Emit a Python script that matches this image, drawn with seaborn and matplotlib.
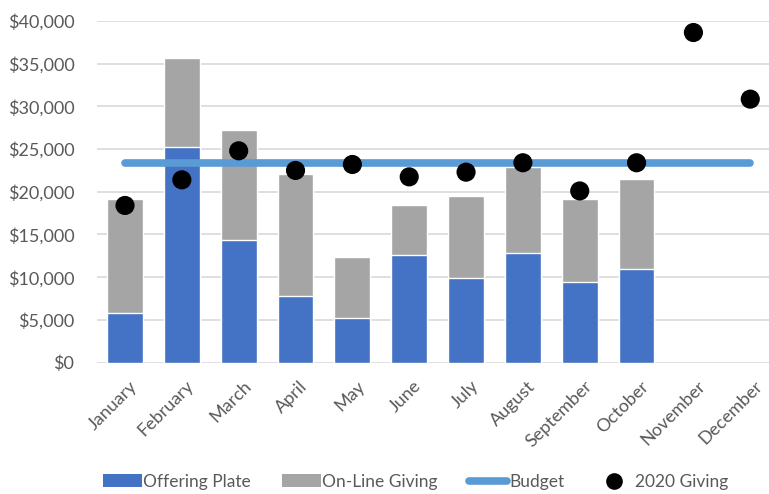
import numpy as np
import pandas as pd
import matplotlib
matplotlib.use("Agg")
import matplotlib.pyplot as plt
import seaborn as sns
from matplotlib.patches import Patch
from matplotlib.lines import Line2D
from matplotlib.ticker import FuncFormatter
import matplotlib.transforms as mtrans

months = ["January", "February", "March", "April", "May", "June", "July",
          "August", "September", "October", "November", "December"]
offering_plate = [5800, 25200, 14300, 7750, 5250, 12600, 9850, 12800, 9400, 11000, np.nan, np.nan]
online_giving = [13350, 10500, 12900, 14350, 7150, 5800, 9700, 10100, 9750, 10500, np.nan, np.nan]
budget = [23400] * 12
giving_2020 = [18400, 21400, 24800, 22500, 23200, 21750, 22300, 23400, 20100, 23400, 38650, 30850]

df = pd.DataFrame({
    "month": months,
    "plate": offering_plate,
    "online": online_giving,
    "budget": budget,
    "giving": giving_2020,
})
df["total"] = df["plate"] + df["online"]
df["pos"] = np.arange(len(months))

sns.set_theme(style="white")
plt.rcParams["font.family"] = ["Lato", "DejaVu Sans"]

BLUE = "#4472C4"
GRAY = "#A5A5A5"
LBLUE = "#5B9BD5"
TXT = "#595959"

fig = plt.figure(figsize=(7.69, 4.94), dpi=100)
ax = fig.add_axes([0.1256, 0.266, 0.887, 0.6915])

sns.barplot(data=df, x="month", y="total", order=months, color=GRAY,
            width=0.63, saturation=1, ax=ax, zorder=2)
sns.barplot(data=df, x="month", y="plate", order=months, color=BLUE,
            width=0.63, saturation=1, ax=ax, zorder=3)
ax.plot(df["pos"], df["budget"], color=LBLUE, lw=5.5, solid_capstyle="round", zorder=4)
sns.scatterplot(x=df["pos"], y=df["giving"], color="black", s=190,
                edgecolor="none", ax=ax, zorder=5)

ax.set_xlim(-0.5, 11.5)
ax.set_ylim(0, 40000)
ax.set_yticks(np.arange(0, 40001, 5000))
ax.yaxis.set_major_formatter(FuncFormatter(lambda v, p: f"${v:,.0f}"))
ax.grid(axis="y", color="#D9D9D9", lw=1.2, zorder=0)
ax.set_axisbelow(True)
for s in ax.spines.values():
    s.set_visible(False)
ax.set_xlabel("")
ax.set_ylabel("")
ax.tick_params(axis="y", colors=TXT, labelsize=13, pad=16, length=0)
ax.tick_params(axis="x", colors=TXT, labelsize=13, length=0, pad=11)
ax.set_xticks(df["pos"])
ax.set_xticklabels(months, rotation=45, ha="right", rotation_mode="anchor")
offset = mtrans.ScaledTranslation(4 / 100, 0, fig.dpi_scale_trans)
for lab in ax.get_xticklabels():
    lab.set_transform(lab.get_transform() + offset)

handles = [
    Patch(facecolor=BLUE, edgecolor="none", label="Offering Plate"),
    Patch(facecolor=GRAY, edgecolor="none", label="On-Line Giving"),
    Line2D([0], [0], color=LBLUE, lw=5.5, solid_capstyle="round", label="Budget"),
    Line2D([0], [0], marker="o", color="none", markerfacecolor="black",
           markeredgecolor="none", markersize=12, label="2020 Giving"),
]
leg = fig.legend(handles=handles, loc="center", bbox_to_anchor=(0.541, 0.025),
                 ncol=4, frameon=False, fontsize=12.5, handlelength=2.2,
                 handletextpad=0.1, columnspacing=1.8)
for t in leg.get_texts():
    t.set_color(TXT)

fig.savefig("out.png", dpi=100)
